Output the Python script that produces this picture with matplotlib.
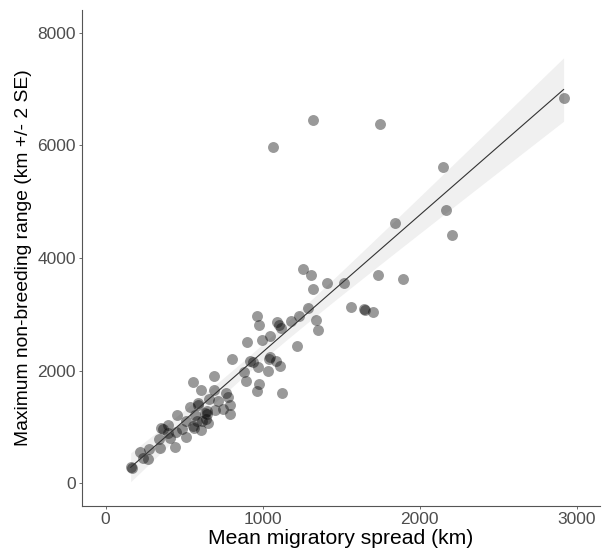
import numpy as np
import matplotlib
matplotlib.use("Agg")
import matplotlib.pyplot as plt

plt.rcParams["font.family"] = ["Liberation Sans", "DejaVu Sans"]

# mean migratory spread (km)
spread_km = [
    160, 170, 220, 240, 270, 275, 340, 350, 355, 365,
    400, 400, 412, 440, 450, 455, 486, 510, 512, 539,
    554, 566, 571, 609, 592, 617, 647, 655, 610, 556,
    691, 693, 767, 782, 661, 718, 793, 750, 793, 697,
    645, 634, 640, 585, 590,
    803, 920, 941, 1040, 1050, 972, 1036, 1110, 880, 894,
    978, 962, 1122, 1088, 903, 996, 1046, 962, 977, 1093,
    1103, 1120, 1179, 1232, 1287, 1338, 1351, 1564, 1220, 1258,
    1311, 1412, 1518, 1321, 1735, 1892, 1644, 1655, 1706,
    1065, 1319, 1750, 1845, 2152, 2167, 2209, 2917,
]
# maximum non-breeding range (km)
range_km = [
    300, 280, 550, 460, 430, 617, 782, 630, 990, 960,
    1040, 900, 812, 650, 912, 1209, 972, 820, 1108, 1350,
    1019, 990, 1209, 948, 1435, 1108, 1227, 1079, 1655, 1801,
    1908, 1659, 1600, 1541, 1493, 1463, 1387, 1316, 1227, 1304,
    1286, 1257, 1138, 1108, 1390,
    2217, 2175, 2157, 2205, 2235, 2068, 1997, 2086, 1975, 1810,
    1765, 1635, 1600, 2175, 2505, 2540, 2619, 2964, 2815, 2857,
    2809, 2756, 2875, 2975, 3106, 2904, 2720, 3124, 2441, 3805,
    3698, 3550, 3550, 3449, 3698, 3627, 3094, 3076, 3046,
    5974, 6454, 6383, 4623, 5606, 4859, 4410, 6840,
]

x_ticks = [0, 1000, 2000, 3000]
y_ticks = [0, 2000, 4000, 6000, 8000]

x = np.array(spread_km, dtype=float)
y = np.array(range_km, dtype=float)

# linear fit with +/- 2 SE band
b, a = np.polyfit(x, y, 1)
resid = y - (a + b * x)
n = len(x)
s = np.sqrt(np.sum(resid ** 2) / (n - 2))
sxx = np.sum((x - x.mean()) ** 2)
xs = np.linspace(x.min(), x.max(), 200)
fit = a + b * xs
se = s * np.sqrt(1.0 / n + (xs - x.mean()) ** 2 / sxx)

fig = plt.figure(figsize=(6.05, 5.54), dpi=100)
ax = fig.add_axes([0.1355, 0.0866, 0.8565, 0.8954])

ax.fill_between(xs, fit - 2 * se, fit + 2 * se, color="#f0f0f0", lw=0, zorder=1)
ax.scatter(x, y, s=62, color="black", alpha=0.4, linewidths=0, zorder=2)
ax.plot(xs, fit, color="#333333", lw=0.8, zorder=3)

ax.set_xlim(-150, 3150)
ax.set_ylim(-400, 8400)
ax.set_xticks(x_ticks)
ax.set_yticks(y_ticks)

for side in ["top", "right"]:
    ax.spines[side].set_visible(False)
for side in ["left", "bottom"]:
    ax.spines[side].set_color("#555555")
    ax.spines[side].set_linewidth(0.8)

ax.tick_params(axis="both", length=2.5, width=0.6, color="#555555",
               labelcolor="#4d4d4d", labelsize=12.5, pad=2)

ax.set_xlabel("Mean migratory spread (km)", fontsize=15.2, labelpad=1)
ax.set_ylabel("Maximum non-breeding range (km +/- 2 SE)", fontsize=13.9, labelpad=4)

fig.savefig("out.png", dpi=100)
